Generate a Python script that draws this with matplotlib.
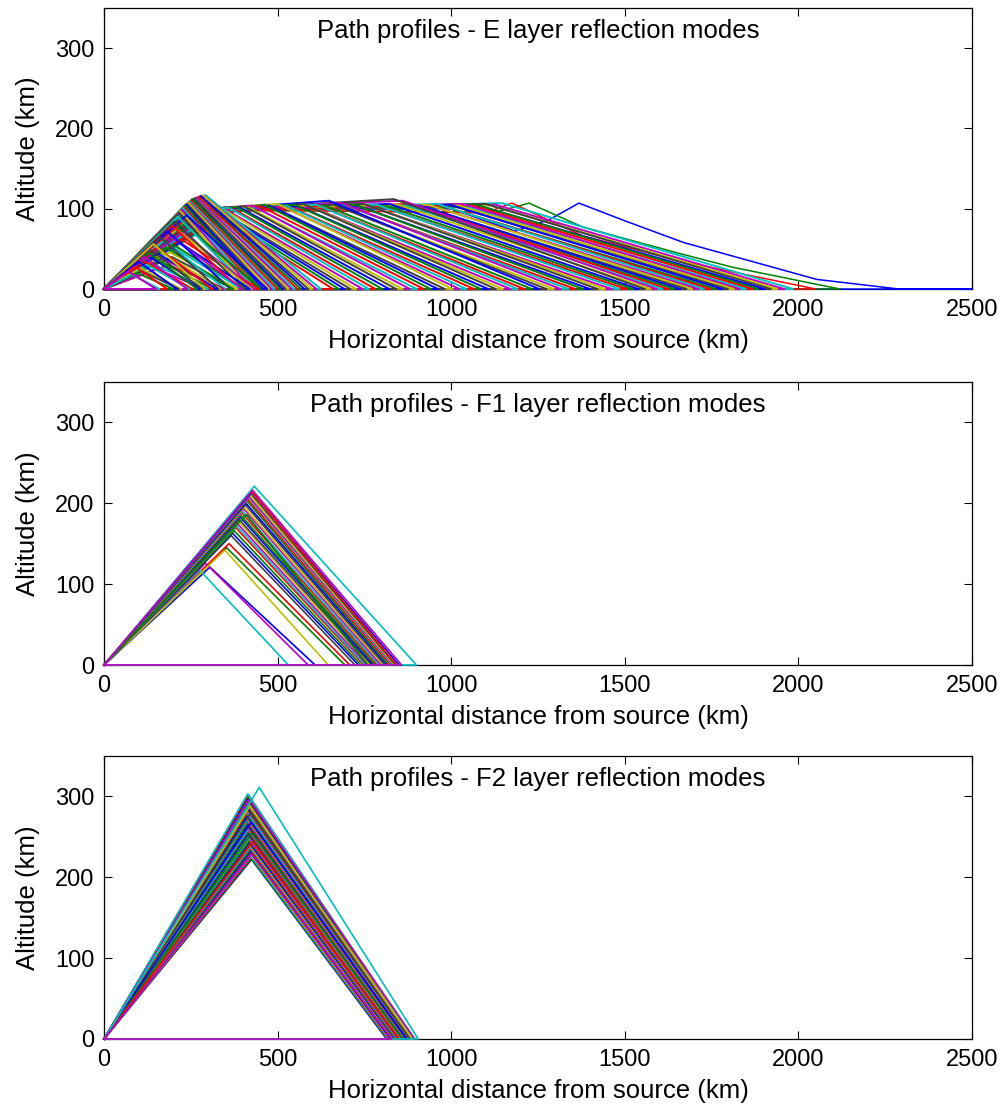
import matplotlib
matplotlib.use("Agg")
import matplotlib.pyplot as plt

plt.rcParams['font.family'] = ['Liberation Sans', 'DejaVu Sans']

# MATLAB sin gamle fargerekkjefølgje (b, g, r, c, m, y, k)
matlab_colors = [(0, 0, 1), (0, 0.5, 0), (1, 0, 0), (0, 0.75, 0.75),
                 (0.75, 0, 0.75), (0.75, 0.75, 0), (0.25, 0.25, 0.25)]

x_ticks = [0, 500, 1000, 1500, 2000, 2500]
y_ticks = [0, 100, 200, 300]

# ---------------- E-lag ----------------
# Dei tre lengste strålane (lest av med fleire punkt, dei er krumme)
e_blue_x = [0, 270, 1000, 1184, 1285, 1368, 1500, 1669, 1861, 2053, 2290, 2500, 0]
e_blue_h = [0, 99, 100, 72, 87, 107, 85, 58, 35, 12, 0, 0, 0]
e_green_x = [0, 300, 1132, 1224, 1380, 1524, 1669, 1812, 2120, 0]
e_green_h = [0, 98, 96, 107, 77, 60, 43, 27, 0, 0]
e_red_x = [0, 284, 1100, 1175, 1380, 1669, 2050, 0]
e_red_h = [0, 99, 95, 107, 66, 34, 0, 0]

# Lange strålar: kvar dei kjem inn i laget, toppunkt og landingspunkt
e_in_x = [330, 244, 352, 290, 374, 276, 318, 240, 340, 296,
          364, 272, 326, 284, 348, 246, 310, 388, 280, 336,
          300, 358, 238, 322, 292, 346, 242, 314, 378, 286,
          332, 274, 356, 298, 320, 248, 342, 288, 366, 278,
          312, 350, 236, 326, 294, 338, 272, 308, 360, 282,
          318, 270, 344, 290, 306, 276, 330, 244, 300, 284,
          296, 270, 288, 264, 280, 268, 276, 262, 270, 258]
e_in_h = [98, 100, 97, 99, 98, 100, 97, 99, 98, 100,
          99, 97, 100, 98, 99, 97, 98, 100, 99, 97,
          98, 100, 99, 97, 98, 99, 100, 97, 98, 99,
          97, 100, 98, 99, 97, 98, 100, 99, 97, 98,
          99, 97, 100, 98, 99, 97, 98, 100, 99, 97,
          98, 99, 97, 100, 98, 99, 97, 98, 99, 97,
          98, 99, 97, 98, 96, 97, 96, 97, 95, 96]
e_top_x = [1146, 1128, 1113, 1099, 1086, 1072, 1060, 1047, 1034, 1022,
           1009, 997, 984, 972, 959, 947, 934, 922, 909, 897,
           884, 872, 860, 847, 835, 822, 810, 797, 785, 772,
           760, 748, 735, 723, 710, 698, 685, 673, 661, 648,
           636, 623, 611, 599, 586, 574, 561, 549, 537, 524,
           512, 500, 487, 475, 463, 451, 439, 427, 415, 404,
           393, 382, 371, 361, 351, 341, 332, 323, 314, 305]
e_top_h = [107, 105, 104, 106, 103, 105, 104, 102, 106, 104,
           103, 105, 102, 104, 106, 103, 105, 102, 104, 103,
           106, 104, 110, 105, 112, 106, 104, 103, 105, 102,
           104, 106, 103, 105, 102, 104, 107, 103, 105, 110,
           104, 103, 105, 102, 104, 106, 103, 105, 102, 104,
           103, 106, 102, 104, 105, 103, 101, 104, 102, 103,
           101, 102, 100, 101, 99, 100, 98, 99, 98, 97]
e_land_x = [1985, 1960, 1940, 1921, 1903, 1884, 1867, 1849, 1831, 1815,
            1797, 1781, 1763, 1746, 1728, 1712, 1694, 1678, 1660, 1643,
            1625, 1609, 1592, 1575, 1558, 1540, 1524, 1505, 1485, 1463,
            1443, 1422, 1400, 1380, 1358, 1338, 1316, 1296, 1275, 1254,
            1233, 1211, 1191, 1171, 1149, 1129, 1107, 1086, 1066, 1044,
            1024, 1004, 982, 962, 941, 921, 901, 881, 860, 842,
            822, 802, 782, 763, 745, 726, 710, 693, 677, 660]

# Bratte strålar som snur kring 250 km
e_steep_x = [292, 288, 285, 281, 278, 275, 272, 269, 266, 263, 260, 257, 254,
             251, 248, 245, 242, 239, 236, 233, 230, 227, 224, 220, 216]
e_steep_h = [117, 116, 117, 115, 116, 114, 115, 113, 114, 112, 113, 111, 112,
             110, 109, 108, 108, 106, 105, 104, 102, 101, 99, 97, 95]
e_steep_land = [625, 612, 600, 589, 578, 568, 558, 549, 540, 531, 523, 515, 507,
                499, 491, 483, 475, 467, 459, 451, 443, 435, 427, 419, 411]

# Låge strålar inne i trekanten (gitteret nede til venstre)
e_low_x = [238, 232, 222, 212, 226, 210, 204, 218, 200, 196, 206, 190, 188,
           195, 182, 178, 185, 172, 168, 170, 163, 156, 160, 152, 146, 150,
           142, 136, 140, 130, 120, 125, 116, 105, 110, 100, 95, 90, 80, 70]
e_low_h = [92, 80, 62, 90, 70, 74, 84, 58, 55, 79, 50, 66, 46,
           40, 72, 52, 30, 60, 38, 45, 64, 44, 35, 52, 30, 25,
           56, 48, 38, 45, 34, 30, 40, 26, 22, 34, 20, 28, 18, 22]
e_low_land = [470, 452, 445, 420, 432, 425, 405, 420, 405, 392, 396, 400, 385,
              372, 365, 372, 352, 350, 345, 336, 330, 325, 312, 312, 300, 290,
              290, 282, 276, 268, 255, 246, 240, 222, 216, 210, 200, 182, 160, 150]

# ---------------- F1-lag ----------------
f1_top_x = [305, 353, 360, 276, 292, 348,
            366, 370, 375, 379, 382, 384, 387, 389, 392, 394, 397, 399,
            402, 404, 407, 409, 412, 414, 417, 418, 420, 423, 426, 410,
            424, 433, 428]
f1_top_h = [121, 145, 150, 117, 126, 142,
            160, 163, 166, 170, 172, 175, 178, 180, 183, 185, 188, 190,
            193, 195, 198, 200, 203, 205, 207, 208, 210, 212, 214, 186,
            215, 221, 216]
f1_land_x = [608, 694, 708, 531, 588, 646,
             723, 733, 740, 748, 752, 758, 765, 771, 776, 781, 787, 792,
             798, 804, 809, 815, 819, 825, 830, 833, 836, 840, 850, 760,
             843, 900, 857]

# ---------------- F2-lag ----------------
f2_top_x = [425, 424, 425, 423, 424, 422, 423, 421, 422, 420,
            421, 420, 419, 420, 418, 419, 417, 418, 416, 417,
            415, 416, 415, 414, 415, 413, 414, 413, 412, 413,
            412, 413, 411, 412, 411, 412, 411, 412, 410, 411,
            412, 411, 410, 412, 411, 412, 411, 413, 412, 414,
            413, 415, 414, 418, 420, 422, 424, 426, 428, 447,
            424]
f2_top_h = [222, 223, 225, 226, 228, 229, 231, 232, 234, 236,
            237, 239, 240, 242, 243, 245, 247, 248, 250, 251,
            253, 254, 256, 258, 259, 261, 262, 264, 265, 267,
            269, 270, 272, 273, 275, 276, 278, 280, 281, 283,
            284, 286, 287, 289, 291, 292, 294, 295, 297, 298,
            300, 302, 303, 296, 288, 279, 268, 255, 244, 311,
            229]
f2_land_x = [814, 816, 818, 819, 821, 823, 825, 826, 828, 830,
             832, 833, 835, 837, 838, 840, 842, 843, 845, 847,
             848, 850, 852, 853, 855, 857, 858, 860, 861, 863,
             864, 866, 867, 869, 870, 872, 873, 874, 876, 877,
             878, 880, 881, 882, 884, 885, 886, 887, 888, 889,
             890, 891, 892, 895, 888, 880, 872, 860, 850, 905,
             828]

LW_E = 1.4
LW_F = 1.2


def draw_rays(ax, top_x, top_h, land_x, lw):
    # kvar stråle: frå kjelda opp til toppen, ned att, og tilbake langs bakken
    for xa, ha, xl in zip(top_x, top_h, land_x):
        ax.plot([0, xa, xl, 0], [0, ha, 0, 0], lw=lw, clip_on=False)


def draw_ducted(ax, in_x, in_h, top_x, top_h, land_x, lw):
    # strålar som går eit stykke inne i laget før dei kjem ned att
    for xi, hi, xa, ha, xl in zip(in_x, in_h, top_x, top_h, land_x):
        ax.plot([0, xi, xa, xl, 0], [0, hi, ha, 0, 0], lw=lw, clip_on=False)


def setup_axes(ax, title):
    ax.set_xlim(0, 2500)
    ax.set_ylim(0, 350)
    ax.set_xticks(x_ticks)
    ax.set_yticks(y_ticks)
    ax.tick_params(direction='in', top=True, right=True, length=6, width=0.8,
                   labelsize=17, pad=7)
    for sp in ax.spines.values():
        sp.set_linewidth(0.9)
        sp.set_zorder(0.5)
    ax.set_xlabel('Horizontal distance from source (km)', fontsize=18.5, labelpad=6)
    ax.set_ylabel('Altitude (km)', fontsize=18.5, labelpad=11)
    ax.text(0.5, 0.918, title, transform=ax.transAxes, ha='center', va='center',
            fontsize=18.5)


fig = plt.figure(figsize=(10.04, 11.1), dpi=100)
ax1 = fig.add_axes([0.1036, 0.7396, 0.8645, 0.2532])
ax2 = fig.add_axes([0.1036, 0.4009, 0.8645, 0.2550])
ax3 = fig.add_axes([0.1036, 0.0640, 0.8645, 0.2550])

for ax in (ax1, ax2, ax3):
    ax.set_prop_cycle(color=matlab_colors)

# E-lag: lengste strålane først, så dei kortare oppå
ax1.plot(e_blue_x, e_blue_h, lw=1.1, clip_on=False)
ax1.plot(e_green_x, e_green_h, lw=1.1, clip_on=False)
ax1.plot(e_red_x, e_red_h, lw=1.1, clip_on=False)
draw_ducted(ax1, e_in_x, e_in_h, e_top_x, e_top_h, e_land_x, LW_E)
draw_rays(ax1, e_steep_x, e_steep_h, e_steep_land, LW_E)
draw_rays(ax1, e_low_x, e_low_h, e_low_land, LW_E)
setup_axes(ax1, 'Path profiles - E layer reflection modes')

draw_rays(ax2, f1_top_x, f1_top_h, f1_land_x, LW_F)
setup_axes(ax2, 'Path profiles - F1 layer reflection modes')

draw_rays(ax3, f2_top_x, f2_top_h, f2_land_x, LW_F)
setup_axes(ax3, 'Path profiles - F2 layer reflection modes')

fig.savefig('out.png', dpi=100)
